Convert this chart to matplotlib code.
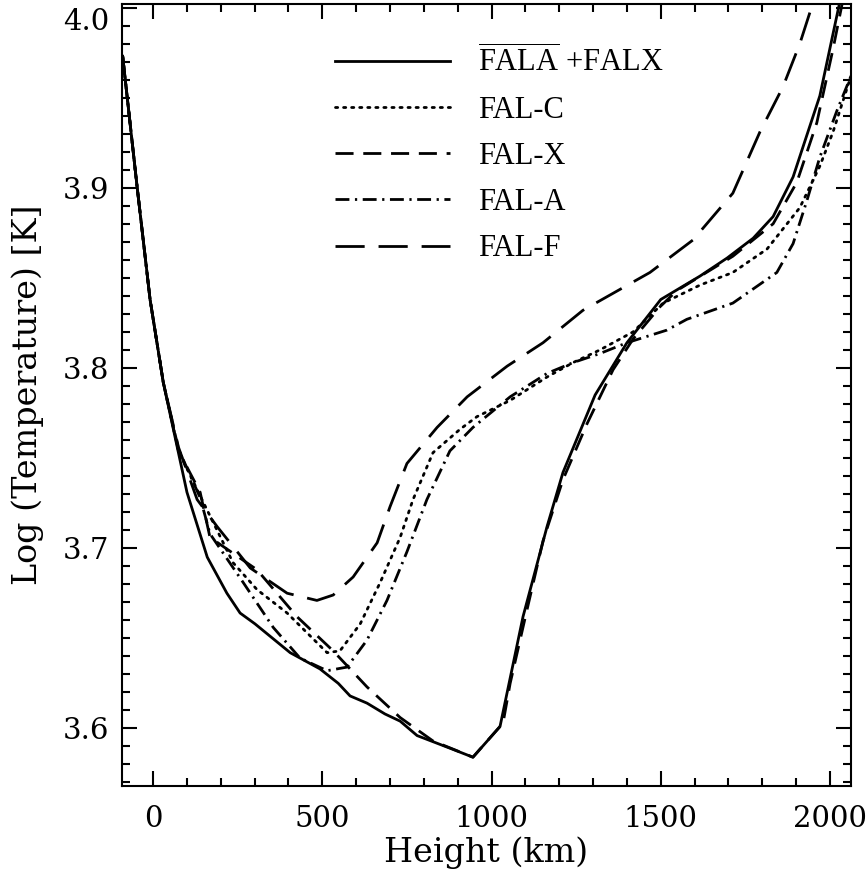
import matplotlib
matplotlib.use('Agg')
import matplotlib.pyplot as plt
from matplotlib.ticker import MultipleLocator

# curves: height (km) and log temperature
h_falax = [-90, -47, -9, 30, 100, 160, 218, 257, 301, 405, 493, 547, 582, 632, 685, 730,
           780, 877, 945, 1025, 1093, 1164, 1211, 1306, 1400, 1500, 1616, 1696, 1773, 1832,
           1891, 1970, 2030]
t_falax = [3.973, 3.900, 3.838, 3.792, 3.731, 3.695, 3.675, 3.664, 3.658, 3.642, 3.633, 3.625,
           3.618, 3.614, 3.608, 3.604, 3.596, 3.589, 3.584, 3.601, 3.662, 3.712, 3.742, 3.785,
           3.814, 3.838, 3.851, 3.861, 3.872, 3.884, 3.906, 3.951, 4.004]

h_falc = [-90, -47, -9, 30, 75, 139, 236, 307, 396, 455, 514, 552, 612, 671, 730, 768, 827,
          907, 957, 1055, 1164, 1241, 1320, 1418, 1507, 1616, 1713, 1814, 1911, 1970, 2009, 2062]
t_falc = [3.973, 3.900, 3.838, 3.792, 3.754, 3.729, 3.692, 3.677, 3.664, 3.653, 3.642, 3.643,
          3.658, 3.681, 3.706, 3.727, 3.753, 3.766, 3.773, 3.782, 3.795, 3.803, 3.810, 3.820,
          3.836, 3.846, 3.853, 3.866, 3.889, 3.912, 3.931, 3.962]

h_falx = [-90, -47, -9, 30, 75, 139, 168, 307, 425, 532, 632, 730, 827, 945, 1034, 1055, 1105,
          1152, 1211, 1282, 1359, 1418, 1498, 1548, 1713, 1832, 1902, 1961, 2009, 2038]
t_falx = [3.973, 3.900, 3.838, 3.792, 3.754, 3.731, 3.706, 3.688, 3.662, 3.643, 3.623, 3.606,
          3.593, 3.584, 3.603, 3.625, 3.666, 3.704, 3.738, 3.769, 3.799, 3.816, 3.834, 3.843,
          3.862, 3.880, 3.903, 3.936, 3.977, 4.004]

h_fala = [-90, -47, -9, 30, 75, 139, 168, 266, 355, 434, 514, 573, 632, 691, 750, 809, 877,
          945, 1055, 1164, 1241, 1320, 1400, 1518, 1577, 1713, 1843, 1891, 1932, 1970, 2021, 2062]
t_fala = [3.973, 3.900, 3.838, 3.792, 3.755, 3.728, 3.708, 3.681, 3.656, 3.639, 3.632, 3.634,
          3.649, 3.671, 3.698, 3.727, 3.754, 3.767, 3.784, 3.797, 3.803, 3.808, 3.814, 3.821,
          3.827, 3.836, 3.853, 3.869, 3.893, 3.917, 3.943, 3.962]

h_falf = [-90, -47, -9, 30, 75, 130, 189, 287, 396, 484, 532, 591, 662, 700, 750, 839, 928,
          1046, 1152, 1270, 1468, 1595, 1713, 1793, 1861, 1911, 1947]
t_falf = [3.973, 3.900, 3.838, 3.792, 3.756, 3.727, 3.712, 3.689, 3.675, 3.671, 3.674, 3.684,
          3.703, 3.723, 3.747, 3.767, 3.784, 3.801, 3.814, 3.832, 3.853, 3.871, 3.897, 3.931,
          3.956, 3.980, 4.001]

labels = [r'$\overline{\mathrm{FALA}}$ +FALX', 'FAL-C', 'FAL-X', 'FAL-A', 'FAL-F']


def main():
    plt.rcParams['font.family'] = 'DejaVu Serif'
    plt.rcParams['mathtext.fontset'] = 'custom'
    plt.rcParams['mathtext.rm'] = 'Liberation Serif'
    plt.rcParams['lines.scale_dashes'] = False

    fig = plt.figure(figsize=(8.67, 8.82), dpi=100)
    ax = fig.add_axes([0.1407, 0.1088, 0.8408, 0.8867])

    lw = 2.0
    ax.plot(h_falax, t_falax, color='black', lw=lw, label=labels[0])
    ax.plot(h_falc, t_falc, color='black', lw=lw, dashes=(1.6, 4.2),
            dash_capstyle='round', label=labels[1])
    ax.plot(h_falx, t_falx, color='black', lw=lw, dashes=(13, 7), label=labels[2])
    ax.plot(h_fala, t_fala, color='black', lw=lw, dashes=(10, 4, 1.6, 4), label=labels[3])
    ax.plot(h_falf, t_falf, color='black', lw=lw, dashes=(21, 10), label=labels[4])

    ax.set_xlim(-92, 2062)
    ax.set_ylim(3.568, 4.002)
    ax.set_xticks([0, 500, 1000, 1500, 2000])
    ax.set_yticks([3.6, 3.7, 3.8, 3.9, 4.0])
    ax.set_yticklabels(['3.6', '3.7', '3.8', '3.9', '4.0'])
    ax.xaxis.set_minor_locator(MultipleLocator(100))
    ax.yaxis.set_minor_locator(MultipleLocator(0.01))
    ax.tick_params(which='both', direction='in', top=True, right=True, width=1.5,
                   labelsize=21)
    ax.tick_params(which='major', length=11)
    ax.tick_params(which='minor', length=5.5)
    ax.tick_params(axis='x', pad=14)
    ax.tick_params(axis='y', pad=9)
    ax.get_yticklabels()[-1].set_verticalalignment('top')
    for s in ax.spines.values():
        s.set_linewidth(1.5)

    ax.set_xlabel('Height (km)', fontsize=24, labelpad=2)
    ax.set_ylabel('Log (Temperature) [K]', fontsize=24, labelpad=14)

    ax.legend(loc='upper left', bbox_to_anchor=(0.255, 0.982), frameon=False,
              prop={'family': 'Liberation Serif', 'size': 22},
              handlelength=3.75, handletextpad=0.93, labelspacing=0.56)

    fig.savefig('out.png', dpi=100)


if __name__ == '__main__':
    main()
